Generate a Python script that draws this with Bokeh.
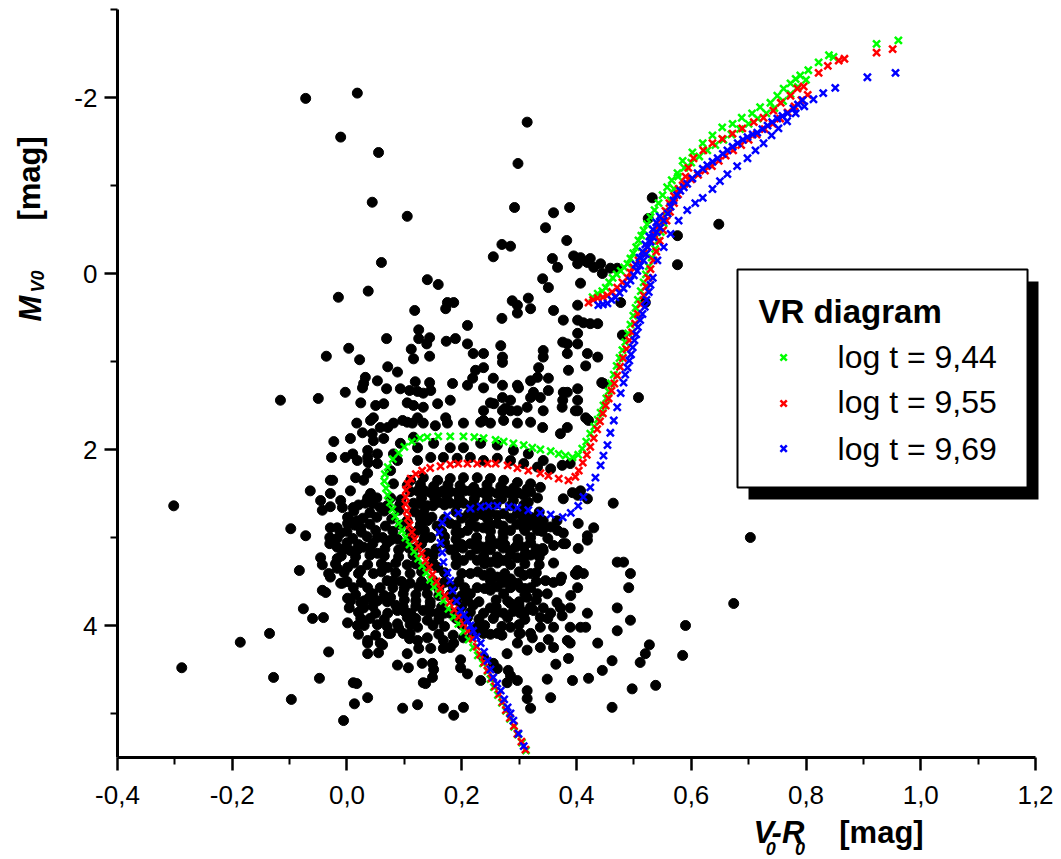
from bokeh.plotting import figure
from bokeh.models import Range1d, FixedTicker, CustomJSTickFormatter, Label
from bokeh.embed import file_html
from bokeh.resources import INLINE
import math

# ---------------- data (V0-R0, M_V0) ----------------
stars_top = [
(-0.072,-1.99),(0.018,-2.05),(-0.011,-1.55),(0.055,-1.375),(0.044,-0.81),(0.105,-0.65),(0.060,-0.125),
(0.314,-1.72),(0.298,-1.25),(0.292,-0.75),(0.360,-0.69),(0.388,-0.75),(0.346,-0.52),(0.383,-0.375),
(0.270,-0.33),(0.285,-0.31),(0.255,-0.19),(0.358,-0.17),(0.367,-0.07),(0.395,-0.20),(0.402,-0.11),
(0.407,-0.18),(0.419,-0.125),(0.424,-0.17),(0.430,-0.07),(0.442,-0.11),(0.445,0.0),(0.459,-0.06),(0.471,-0.06),
(0.532,-0.86),(0.525,-0.625),(0.576,-0.43),(0.576,-0.10),(0.648,-0.56),
]
stars_upper = [
(0.140,0.07),(0.159,0.125),(-0.015,0.27),(0.037,0.20),(0.175,0.33),(0.186,0.33),(0.172,0.40),(0.118,0.42),
(0.125,0.64),(0.125,0.74),(0.144,0.73),(0.139,0.80),(0.069,0.74),(0.173,0.77),(0.189,0.74),(0.112,0.86),
(0.116,0.97),(0.144,0.94),(0.003,0.85),(0.022,0.98),(-0.036,0.94),(0.071,1.06),(0.088,1.12),(0.032,1.18),
(0.027,1.30),(0.053,1.22),(0.069,1.31),(0.093,1.31),(0.109,1.33),(0.123,1.34),(0.133,1.36),(0.119,1.23),
(0.144,1.24),(0.184,1.25),(-0.003,1.35),(-0.050,1.42),(-0.116,1.44),
(0.341,0.06),(0.351,0.16),(0.407,0.11),(0.288,0.31),(0.297,0.36),(0.316,0.28),(0.320,0.40),(0.297,0.45),
(0.270,0.51),(0.360,0.42),(0.377,0.53),(0.402,0.36),(0.402,0.53),(0.412,0.56),(0.424,0.57),(0.437,0.57),
(0.477,0.33),(0.520,0.33),(0.210,0.59),(0.210,0.80),(0.220,0.91),(0.238,0.91),(0.268,0.82),(0.271,0.95),
(0.271,1.01),(0.224,1.10),(0.238,1.07),(0.219,1.19),(0.255,1.19),(0.271,1.27),(0.299,1.30),(0.320,1.22),
(0.332,1.18),(0.342,0.875),(0.342,0.95),(0.334,1.07),(0.351,1.19),(0.351,1.33),(0.376,0.78),(0.384,0.91),
(0.384,0.80),(0.402,0.68),(0.402,0.80),(0.419,0.91),(0.437,0.95),(0.416,1.05),(0.386,1.10),(0.402,1.31),
(0.384,1.35),(0.376,1.44),(0.402,1.44),(0.402,1.56),(0.337,1.41),(0.342,1.56),(0.320,1.41),(0.314,1.52),
(0.285,1.44),(0.271,1.41),(0.271,1.56),(0.250,1.47),(0.238,1.56),(0.285,1.56),(0.238,1.67),(0.203,1.70),
(0.172,1.64),(0.154,1.73),(0.416,1.64),(0.421,1.67),(0.444,1.24),(0.480,0.70),(0.508,1.41),
(0.029,1.25),(0.146,1.33),(0.210,1.27),(0.238,1.30),(0.297,1.27),(0.325,1.35),(0.377,1.35),(0.447,1.25),
(0.024,1.47),(0.050,1.50),(0.064,1.48),(0.105,1.47),(0.116,1.50),(0.133,1.52),(0.158,1.48),(0.180,1.44),
(0.256,1.48),(0.276,1.53),(0.297,1.56),(0.375,1.52),(0.398,1.56),
(0.041,1.67),(0.105,1.69),(0.133,1.70),(0.175,1.70),(0.233,1.69),(0.250,1.70),(0.273,1.67),(0.297,1.70),
(0.320,1.69),(0.341,1.75),(0.372,1.82),(0.384,1.75),
]
stars_middle = [
(0.006,1.875),(0.046,1.90),(0.064,1.875),(0.093,1.93),(0.123,1.98),(0.151,1.93),(0.180,1.98),(0.203,1.98),
(0.233,1.93),(0.262,1.95),(0.290,2.01),(0.316,2.05),(0.342,2.125),(0.375,2.18),(0.389,2.16),
(0.018,2.125),(0.036,2.09),(0.053,2.16),(0.076,2.24),(-0.029,2.35),(0.036,2.27),
(0.123,2.125),(0.146,2.09),(0.168,2.09),(0.192,2.10),(0.215,2.09),(0.238,2.125),(0.262,2.10),(0.285,2.125),
(0.308,2.16),(0.332,2.20),(0.355,2.22),
(0.046,1.64),(0.058,1.75),(0.044,1.82),(0.071,1.75),(0.081,1.70),(0.097,1.67),(0.114,1.70),(0.116,1.86),(0.123,1.64),
(0.017,1.70),(0.027,1.81),(-0.023,1.91),(-0.027,2.09),(-0.003,2.09),(0.010,2.05),(0.036,2.01),(0.037,2.15),
(0.053,2.05),(0.081,2.05),(0.088,2.125),(-0.025,2.35),(0.015,2.32),(-0.064,2.47),(-0.046,2.58),(-0.029,2.50),
(-0.043,2.69),(-0.011,2.58),(-0.029,2.65),(-0.008,2.66),(-0.098,2.90),(-0.072,2.98),(-0.083,3.375),(-0.043,3.31),
(-0.017,3.24),(-0.032,3.41),(-0.017,3.35),(-0.008,3.52),(-0.037,3.625),(0.001,3.69),(0.004,3.80),(0.024,3.74),
(0.001,3.97),(0.024,3.92),(0.039,3.68),(0.053,3.99),(0.036,4.17),(0.036,4.32),(0.055,4.31),(0.062,4.22),
(0.090,4.03),(0.072,4.09),(0.109,4.15),(0.123,4.17),(0.140,4.14),(0.105,4.32),(0.125,4.26),(0.146,4.26),
(0.168,4.26),(0.186,4.20),(0.149,4.43),(0.151,4.50),(0.011,2.66),(0.001,2.77),(0.018,2.81),(0.036,2.55),
(-0.017,2.89),(-0.017,3.01),(0.001,2.84),(-0.076,3.81),(-0.060,3.92),(-0.041,3.91),(-0.032,4.30),(-0.048,4.60),
(-0.006,5.08),(0.017,4.66),(0.013,4.89),(0.036,4.82),(0.097,4.94),(0.123,4.90),(0.168,4.94),(0.186,5.02),
(0.088,4.45),(0.107,4.48),(0.137,4.66),(-0.302,2.64),(-0.288,4.48),(-0.186,4.19),(-0.135,4.09),(-0.128,4.59),
(-0.097,4.84),
]
stars_core = [
(0.006,2.47),(0.029,2.35),(0.041,2.50),(0.032,2.61),(0.058,2.66),(0.076,2.55),(0.081,2.39),
(0.111,2.35),(0.133,2.32),(0.158,2.35),(0.180,2.33),(0.203,2.32),(0.227,2.32),(0.250,2.33),(0.273,2.35),
(0.297,2.375),(0.320,2.39),(0.337,2.43),
(0.123,2.47),(0.146,2.49),(0.168,2.47),(0.192,2.49),(0.215,2.47),(0.238,2.49),(0.262,2.50),(0.285,2.50),
(0.308,2.52),(0.332,2.55),
(0.116,2.61),(0.140,2.64),(0.160,2.60),(0.180,2.61),(0.203,2.61),(0.227,2.66),(0.273,2.73),(0.297,2.73),
(0.320,2.77),(0.342,2.81),(0.366,2.81),(0.377,2.56),(0.402,2.52),(0.464,2.61),
(-0.046,3.23),(-0.029,3.45),(-0.043,3.60),(-0.029,2.89),(-0.011,2.95),(0.006,2.81),(0.024,2.89),(-0.017,3.11),
(0.006,3.15),(0.029,3.11),(0.053,3.0),(0.053,3.18),(0.076,3.03),
(0.001,3.34),(0.024,3.375),(0.046,3.41),(0.071,3.34),(-0.011,3.52),(0.011,3.57),(0.036,3.57),(0.058,3.57),(0.081,3.49),
(0.105,2.81),(0.123,2.92),(0.140,2.81),(0.146,3.0),(0.123,3.11),(0.140,3.18),(0.158,3.34),(0.133,3.34),
(0.180,2.84),(0.198,2.95),(0.215,2.84),(0.238,2.89),(0.262,2.84),(0.285,2.92),(0.308,2.89),(0.332,2.92),
(0.192,3.11),(0.215,3.07),(0.238,3.11),(0.262,3.07),(0.285,3.15),(0.308,3.11),
(0.203,3.26),(0.227,3.26),(0.250,3.28),(0.273,3.26),(0.297,3.23),(0.320,3.20),(0.342,3.15),
(0.215,3.41),(0.238,3.43),(0.262,3.45),(0.285,3.47),(0.308,3.43),
(0.227,3.57),(0.250,3.60),(0.273,3.64),(0.297,3.52),(0.320,3.57),(0.346,3.49),(0.349,3.64),(0.372,3.49),
(0.402,3.375),(0.471,3.28),(0.482,3.28),
(0.018,4.0),(0.006,3.72),(0.029,3.80),(0.053,3.72),(0.076,3.68),(0.098,3.64),(0.071,3.86),(0.088,3.83),
(0.111,3.86),(0.133,3.83),(0.088,3.98),(0.098,4.09),(0.123,4.02),(0.140,3.94),(0.158,3.86),(0.180,3.86),
(0.036,4.20),(0.058,4.20),(0.076,4.09),(0.168,4.17),(0.180,4.25),(0.203,4.14),(0.227,4.02),(0.238,3.86),
(0.250,3.80),(0.273,3.86),(0.285,3.75),(0.314,3.68),(0.325,3.83),(0.342,3.80),(0.355,3.86),(0.372,3.80),
(0.238,4.09),(0.262,4.09),(0.285,4.02),(0.297,4.20),(0.320,4.09),(0.337,4.02),(0.360,4.02),(0.389,4.02),
(0.407,4.02),(0.419,3.86),(0.437,4.20),(0.389,4.20),(0.360,4.25),(0.337,4.25),(0.314,4.28),(0.279,4.32),
(0.255,4.43),(0.238,4.36),
(0.105,2.41),(0.128,2.40),(0.151,2.42),(0.176,2.40),(0.197,2.41),(0.221,2.43),(0.244,2.40),(0.268,2.42),(0.290,2.44),(0.314,2.45),
(0.052,2.55),(0.094,2.57),(0.130,2.55),(0.153,2.56),(0.174,2.54),(0.196,2.55),(0.222,2.56),(0.245,2.57),(0.270,2.56),(0.290,2.58),(0.316,2.60),
(0.012,2.70),(0.040,2.72),(0.065,2.70),(0.090,2.69),(0.118,2.71),(0.134,2.72),(0.190,2.71),(0.212,2.73),(0.236,2.74),(0.250,2.71),(0.262,2.75),(0.310,2.70),(0.335,2.71),
(0.014,2.86),(0.040,2.85),(0.067,2.87),(0.094,2.86),(0.128,2.85),(0.157,2.87),(0.190,2.86),(0.226,2.88),(0.250,2.86),(0.272,2.87),(0.296,2.85),(0.320,2.86),(0.355,2.88),
(-0.030,3.00),(0.010,3.01),(0.035,2.99),(0.062,3.00),(0.088,3.02),(0.112,3.00),(0.135,3.01),(0.170,2.99),(0.190,3.02),(0.226,3.00),(0.250,3.01),(0.272,3.00),(0.298,3.02),(0.320,3.00),(0.350,3.01),
(-0.005,3.13),(0.018,3.14),(0.040,3.12),(0.066,3.13),(0.090,3.14),(0.108,3.12),(0.155,3.13),(0.180,3.14),(0.202,3.12),(0.226,3.13),(0.250,3.14),(0.272,3.12),(0.330,3.13),
(-0.020,3.30),(0.012,3.29),(0.036,3.31),(0.060,3.30),(0.085,3.29),(0.105,3.31),(0.120,3.30),(0.150,3.29),(0.190,3.31),(0.240,3.30),(0.262,3.29),(0.285,3.31),(0.310,3.30),(0.335,3.31),(0.360,3.29),
(0.000,3.50),(0.025,3.51),(0.070,3.49),(0.095,3.50),(0.110,3.52),(0.130,3.50),(0.150,3.49),(0.170,3.51),(0.195,3.50),(0.250,3.49),(0.273,3.51),(0.330,3.50),(0.360,3.51),
(0.015,3.65),(0.045,3.64),(0.065,3.66),(0.120,3.65),(0.140,3.64),(0.160,3.66),(0.180,3.65),(0.200,3.66),(0.215,3.64),(0.310,3.65),(0.390,3.66),
(0.045,3.78),(0.085,3.77),(0.098,3.79),(0.120,3.78),(0.145,3.77),(0.165,3.79),(0.200,3.78),(0.220,3.77),(0.260,3.79),(0.300,3.78),(0.320,3.79),
(0.040,3.92),(0.065,3.93),(0.105,3.91),(0.120,3.92),(0.160,3.93),(0.190,3.92),(0.210,3.91),(0.230,3.93),(0.255,3.92),(0.280,3.91),(0.310,3.93),(0.350,3.92),
(0.020,4.10),(0.050,4.11),(0.110,4.09),(0.160,4.10),(0.185,4.11),(0.220,4.09),(0.250,4.10),(0.270,4.11),(0.300,4.09),
]
stars_core_fill = [
(0.110,2.48),(0.135,2.47),(0.160,2.49),(0.180,2.48),(0.205,2.47),(0.228,2.49),(0.250,2.48),(0.275,2.47),(0.298,2.49),(0.320,2.48),
(0.020,2.63),(0.045,2.62),(0.070,2.64),(0.092,2.63),(0.128,2.62),(0.150,2.64),(0.170,2.63),(0.192,2.62),(0.215,2.64),(0.240,2.63),(0.260,2.62),(0.285,2.64),(0.308,2.63),
(0.028,2.78),(0.052,2.77),(0.078,2.79),(0.128,2.78),(0.148,2.77),(0.170,2.79),(0.200,2.78),(0.222,2.77),(0.245,2.79),(0.285,2.78),(0.308,2.79),(0.330,2.77),
(0.000,2.93),(0.025,2.94),(0.050,2.92),(0.080,2.93),(0.110,2.94),(0.135,2.92),(0.165,2.93),(0.190,2.94),(0.210,2.92),(0.250,2.93),(0.272,2.94),(0.310,2.92),(0.340,2.93),
(-0.030,3.07),(0.000,3.06),(0.020,3.08),(0.045,3.07),(0.070,3.06),(0.100,3.08),(0.130,3.07),(0.170,3.06),(0.200,3.08),(0.227,3.07),(0.250,3.06),(0.275,3.08),(0.298,3.07),(0.320,3.06),
(-0.010,3.21),(0.015,3.22),(0.040,3.20),(0.065,3.21),(0.090,3.22),(0.115,3.20),(0.150,3.21),(0.190,3.22),(0.215,3.20),(0.238,3.21),(0.262,3.22),(0.285,3.20),(0.310,3.21),(0.335,3.22),
(-0.005,3.40),(0.020,3.41),(0.060,3.39),(0.085,3.40),(0.110,3.41),(0.130,3.39),(0.170,3.40),(0.200,3.41),(0.228,3.39),(0.250,3.40),(0.275,3.41),(0.300,3.39),(0.330,3.40),
(0.080,3.57),(0.100,3.58),(0.125,3.56),(0.140,3.57),(0.160,3.58),(0.185,3.56),(0.205,3.57),(0.240,3.58),(0.262,3.56),(0.285,3.57),(0.310,3.58),
(0.030,3.72),(0.070,3.73),(0.100,3.71),(0.120,3.72),(0.145,3.73),(0.190,3.71),(0.210,3.72),(0.230,3.73),(0.260,3.71),(0.280,3.72),(0.300,3.73),(0.330,3.71),
(0.020,3.85),(0.050,3.86),(0.100,3.84),(0.145,3.85),(0.170,3.86),(0.195,3.84),(0.215,3.85),(0.260,3.86),(0.290,3.84),(0.310,3.85),
(0.030,4.00),(0.070,4.01),(0.110,3.99),(0.150,4.00),(0.170,4.01),(0.200,3.99),(0.240,4.00),(0.270,4.01),(0.300,3.99),
]
stars_lower = [
(0.131,4.43),(0.149,4.59),(0.198,4.48),(0.133,4.65),(0.210,4.55),(0.011,4.65),(0.203,4.93),
(0.285,4.57),(0.297,4.625),(0.279,4.65),(0.314,4.74),(0.314,4.83),(0.320,4.94),(0.355,4.82),(0.393,4.625),
(0.421,4.60),(0.445,4.51),(0.462,4.40),(0.471,4.06),(0.494,3.94),(0.511,4.42),(0.462,4.93),(0.497,4.72),
(0.520,4.32),(0.471,3.80),(0.494,3.41),(0.491,3.57),
(0.419,3.03),(0.403,2.84),(0.430,2.89),(0.377,3.07),(0.377,2.95),(0.412,3.41),(0.398,3.41),(0.332,3.64),
(0.703,3.0),(0.674,3.75),(0.590,4.0),(0.585,4.34),(0.538,4.68),(0.527,4.22),(0.386,4.375),(0.364,4.44),
(0.349,4.61),(0.281,4.51),(0.262,4.49),(0.233,4.625),(0.198,4.39),(0.384,4.17),(0.351,4.16),(0.323,4.14),
(0.302,4.09),(0.416,4.02),(0.375,3.89),(0.337,3.91),(0.302,3.86),(0.366,3.74),(0.389,3.80),(0.402,3.57),
(0.400,3.42),(0.374,3.45),(0.320,3.41),(0.302,3.57),(0.311,3.18),(0.294,3.11),(0.341,3.125),(0.360,3.09),
(0.381,3.07),(0.403,3.125),(0.419,2.98),(0.367,2.92),(0.342,2.90),(0.332,2.83),(0.393,2.49),(0.407,2.47),
(0.419,2.56),
]

iso_944 = [
(0.312,5.42),(0.305,5.33),(0.298,5.24),(0.291,5.15),(0.284,5.06),(0.277,4.97),(0.270,4.88),
(0.263,4.79),(0.256,4.70),(0.250,4.61),(0.245,4.52),(0.237,4.43),(0.228,4.34),(0.220,4.25),(0.212,4.16),
(0.203,4.07),(0.194,3.98),(0.186,3.90),(0.177,3.81),(0.168,3.72),(0.160,3.64),(0.152,3.56),(0.145,3.48),
(0.138,3.40),(0.131,3.32),(0.124,3.24),(0.117,3.16),(0.109,3.08),(0.102,3.00),(0.096,2.92),(0.090,2.84),
(0.084,2.76),(0.079,2.68),(0.075,2.60),(0.071,2.52),(0.068,2.44),(0.065,2.36),(0.066,2.28),(0.071,2.20),
(0.080,2.11),(0.090,2.04),(0.100,1.97),(0.113,1.91),(0.127,1.87),(0.140,1.86),(0.159,1.85),(0.180,1.85),
(0.203,1.85),(0.222,1.86),(0.238,1.87),(0.259,1.89),(0.273,1.91),(0.290,1.93),(0.308,1.95),(0.323,1.98),
(0.337,2.00),(0.355,2.02),(0.369,2.05),(0.381,2.07),(0.393,2.09),(0.403,2.06),(0.410,1.99),(0.417,1.91),
(0.424,1.82),(0.431,1.74),(0.437,1.66),(0.442,1.58),(0.447,1.50),(0.452,1.42),(0.456,1.34),(0.460,1.25),
(0.465,1.15),(0.470,1.05),(0.475,0.96),(0.480,0.87),(0.485,0.78),(0.490,0.68),(0.494,0.58),(0.499,0.48),
(0.503,0.39),(0.507,0.30),(0.512,0.20),(0.517,0.10),(0.521,0.01),(0.526,-0.08),(0.531,-0.18),(0.537,-0.28),
(0.542,-0.37),(0.547,-0.47),(0.552,-0.57),(0.558,-0.70),(0.564,-0.83),(0.570,-0.96),(0.577,-1.10),(0.585,-1.28),
(0.602,-1.375),(0.620,-1.48),(0.637,-1.57),(0.654,-1.66),(0.672,-1.70),(0.688,-1.77),(0.706,-1.82),(0.720,-1.89),
(0.738,-1.94),(0.750,-2.02),(0.761,-2.10),(0.773,-2.16),(0.782,-2.21),(0.790,-2.25),(0.804,-2.31),(0.822,-2.40),
(0.840,-2.48),(0.848,-2.46),(0.923,-2.61),(0.961,-2.65),
(0.428,0.27),(0.437,0.23),(0.445,0.20),(0.451,0.16),(0.457,0.10),(0.463,0.05),(0.470,0.01),(0.477,-0.03),
(0.483,-0.07),(0.489,-0.11),(0.494,-0.17),(0.499,-0.23),(0.504,-0.30),(0.508,-0.375),(0.513,-0.43),(0.517,-0.49),
(0.523,-0.56),(0.529,-0.64),(0.536,-0.72),(0.543,-0.80),(0.550,-0.89),(0.558,-0.98),(0.566,-1.06),(0.576,-1.14),
(0.588,-1.20),(0.600,-1.26),(0.614,-1.33),(0.628,-1.40),(0.642,-1.46),(0.656,-1.52),(0.670,-1.58),(0.685,-1.64),
(0.700,-1.70),(0.716,-1.76),(0.731,-1.82),(0.745,-1.88),(0.760,-1.96),(0.773,-2.04),(0.786,-2.12),(0.800,-2.20),
]
iso_955 = [
(0.311,5.41),(0.304,5.32),(0.297,5.23),(0.291,5.14),(0.284,5.05),(0.277,4.96),(0.271,4.87),
(0.265,4.78),(0.258,4.69),(0.252,4.60),(0.245,4.51),(0.239,4.42),(0.232,4.33),(0.226,4.24),(0.219,4.15),
(0.211,4.06),(0.203,3.98),(0.195,3.90),(0.187,3.82),(0.179,3.74),(0.171,3.66),(0.163,3.58),(0.156,3.50),
(0.149,3.42),(0.143,3.34),(0.137,3.26),(0.130,3.18),(0.124,3.10),(0.118,3.02),(0.113,2.94),(0.109,2.86),
(0.106,2.78),(0.104,2.70),(0.102,2.62),(0.102,2.54),(0.103,2.46),(0.106,2.39),(0.111,2.33),(0.120,2.28),
(0.131,2.24),(0.145,2.21),(0.163,2.19),(0.180,2.17),(0.194,2.16),(0.210,2.16),(0.227,2.16),(0.245,2.16),
(0.259,2.16),(0.280,2.18),(0.297,2.21),(0.316,2.24),(0.337,2.27),(0.351,2.30),(0.369,2.33),(0.386,2.35),
(0.398,2.31),(0.404,2.24),(0.411,2.15),(0.418,2.06),(0.424,1.97),(0.430,1.87),(0.436,1.77),(0.441,1.68),
(0.446,1.59),(0.451,1.50),(0.456,1.42),(0.461,1.33),(0.466,1.25),(0.471,1.16),(0.476,1.06),(0.481,0.96),
(0.487,0.86),(0.492,0.76),(0.497,0.67),(0.502,0.57),(0.507,0.46),(0.512,0.35),(0.517,0.25),(0.521,0.15),
(0.525,0.05),(0.529,-0.05),(0.534,-0.15),(0.539,-0.25),(0.545,-0.37),(0.551,-0.49),(0.557,-0.60),(0.563,-0.70),
(0.570,-0.80),(0.577,-0.90),(0.585,-1.00),(0.590,-1.10),(0.595,-1.20),(0.604,-1.31),(0.621,-1.40),(0.637,-1.48),
(0.654,-1.53),(0.672,-1.59),(0.689,-1.65),(0.709,-1.72),(0.726,-1.77),(0.743,-1.85),(0.756,-1.94),(0.773,-2.02),
(0.785,-2.10),(0.796,-2.125),(0.822,-2.28),(0.838,-2.36),(0.857,-2.42),(0.867,-2.44),(0.923,-2.51),(0.951,-2.55),
(0.421,0.33),(0.429,0.30),(0.437,0.28),(0.446,0.27),(0.454,0.25),(0.462,0.21),(0.471,0.16),(0.480,0.10),
(0.489,0.05),(0.494,-0.01),(0.499,-0.07),(0.508,-0.15),(0.517,-0.23),(0.523,-0.30),(0.529,-0.375),(0.535,-0.45),
(0.541,-0.53),(0.548,-0.62),(0.555,-0.71),(0.562,-0.80),(0.570,-0.88),(0.578,-0.96),(0.588,-1.02),(0.600,-1.07),
(0.612,-1.12),(0.624,-1.17),(0.636,-1.22),(0.648,-1.28),(0.660,-1.34),(0.673,-1.40),(0.687,-1.46),(0.700,-1.52),
(0.714,-1.58),(0.728,-1.64),(0.742,-1.70),(0.755,-1.76),(0.768,-1.83),(0.780,-1.90),(0.792,-1.97),(0.803,-2.03),
]
iso_969 = [
(0.308,5.37),(0.299,5.23),(0.290,5.08),(0.285,5.00),(0.280,4.93),(0.274,4.84),(0.268,4.74),
(0.262,4.66),(0.255,4.59),(0.250,4.50),(0.245,4.40),(0.239,4.30),(0.233,4.20),(0.226,4.13),(0.220,4.06),
(0.215,4.00),(0.210,3.94),(0.204,3.88),(0.198,3.83),(0.191,3.72),(0.184,3.60),(0.180,3.49),(0.175,3.40),
(0.168,3.28),(0.166,3.17),(0.163,3.06),(0.161,2.94),(0.166,2.83),(0.175,2.75),(0.194,2.72),(0.215,2.67),
(0.233,2.65),(0.247,2.64),(0.262,2.64),(0.282,2.65),(0.297,2.66),(0.316,2.69),(0.337,2.72),(0.355,2.74),
(0.376,2.77),(0.390,2.72),(0.403,2.64),(0.412,2.54),(0.424,2.43),(0.433,2.32),(0.442,2.18),(0.447,2.07),
(0.454,1.95),(0.459,1.81),(0.465,1.67),(0.471,1.52),(0.477,1.36),(0.482,1.24),(0.485,1.15),(0.489,1.07),
(0.492,0.99),(0.495,0.92),(0.498,0.84),(0.501,0.76),(0.504,0.69),(0.507,0.61),(0.511,0.53),(0.515,0.46),
(0.519,0.38),(0.522,0.30),(0.526,0.21),(0.529,0.13),(0.533,0.05),(0.541,-0.15),(0.552,-0.30),(0.564,-0.45),
(0.578,-0.60),(0.593,-0.72),(0.607,-0.80),(0.620,-0.86),(0.637,-0.96),(0.650,-1.05),(0.663,-1.13),(0.680,-1.22),
(0.698,-1.31),(0.712,-1.40),(0.726,-1.48),(0.740,-1.57),(0.752,-1.65),(0.767,-1.73),(0.782,-1.82),(0.797,-1.90),
(0.813,-1.98),(0.830,-2.05),(0.851,-2.11),(0.907,-2.23),(0.956,-2.28),
(0.438,0.36),(0.446,0.35),(0.454,0.34),(0.461,0.30),(0.468,0.27),(0.475,0.22),(0.482,0.17),(0.488,0.12),
(0.494,0.08),(0.500,0.02),(0.506,-0.03),(0.511,-0.09),(0.517,-0.15),(0.521,-0.22),(0.524,-0.30),(0.529,-0.36),
(0.534,-0.41),(0.540,-0.47),(0.546,-0.52),(0.552,-0.60),(0.559,-0.68),(0.564,-0.76),(0.569,-0.83),(0.575,-0.89),
(0.581,-0.94),(0.587,-0.98),(0.593,-1.02),(0.602,-1.08),(0.611,-1.14),(0.620,-1.19),(0.628,-1.23),(0.637,-1.27),
(0.646,-1.31),(0.655,-1.36),(0.663,-1.40),(0.672,-1.44),(0.681,-1.48),(0.690,-1.52),(0.698,-1.55),(0.707,-1.58),
(0.715,-1.60),(0.724,-1.64),(0.733,-1.68),(0.741,-1.72),(0.750,-1.76),(0.759,-1.79),(0.768,-1.82),(0.778,-1.875),
(0.786,-1.92),(0.794,-1.97),(0.503,-0.10),(0.510,-0.18),(0.515,-0.25),(0.520,-0.33),(0.527,-0.42),(0.533,-0.50),
(0.539,-0.58),(0.545,-0.65),
]

series_names = ["log t = 9,44", "log t = 9,55", "log t = 9,69"]
series_colors = ["#00ff00", "#ff0000", "#0000ff"]
x_bounds = (-0.4, 1.2)
y_bounds = (-3.0, 5.5)
x_ticks = [-0.4, -0.2, 0.0, 0.2, 0.4, 0.6, 0.8, 1.0, 1.2]
x_minor = [-0.3, -0.1, 0.1, 0.3, 0.5, 0.7, 0.9, 1.1]
y_ticks = [-2, 0, 2, 4]
y_minor = [-3, -1, 1, 3, 5]

# ---------------- figure (frame = whole canvas, axes fixed at the data edges) ----------------
FONT = "Liberation Sans"
p = figure(width=1061, height=859, x_range=Range1d(-0.6039, 1.2453), y_range=Range1d(6.659, -3.1023),
           output_backend="svg", toolbar_location=None, title=None, min_border=0)
p.outline_line_color = None
p.grid.visible = False
p.background_fill_color = "white"
p.border_fill_color = "white"

for ax in (p.xaxis[0], p.yaxis[0]):
    ax.axis_line_width = 3
    ax.axis_line_color = "black"
    ax.major_tick_line_width = 2.5
    ax.minor_tick_line_width = 2
    ax.major_tick_out = 13
    ax.major_tick_in = 0
    ax.minor_tick_out = 7
    ax.minor_tick_in = 0
    ax.major_label_text_font = FONT
    ax.major_label_text_font_size = "26px"
    ax.major_label_text_color = "black"

xa = p.xaxis[0]
xa.fixed_location = y_bounds[1]
xa.bounds = x_bounds
xa.ticker = FixedTicker(ticks=x_ticks, minor_ticks=x_minor)
xa.formatter = CustomJSTickFormatter(code="return tick.toFixed(1).replace('.', ',');")
xa.major_label_standoff = 15

ya = p.yaxis[0]
ya.fixed_location = x_bounds[0]
ya.bounds = y_bounds
ya.ticker = FixedTicker(ticks=y_ticks, minor_ticks=y_minor)
ya.formatter = CustomJSTickFormatter(code="return String(tick);")
ya.major_label_standoff = 7

all_stars = stars_top + stars_upper + stars_middle + stars_core + stars_core_fill + stars_lower
p.scatter([s[0] for s in all_stars], [s[1] for s in all_stars], size=10, color="black")

for iso, col in zip([iso_944, iso_955, iso_969], series_colors):
    p.scatter([q[0] for q in iso], [q[1] for q in iso], marker="x", size=10,
              line_color=col, line_width=2.5)

# ---------------- legend box ----------------
p.quad(left=[0.6998], right=[1.2052], top=[0.091], bottom=[2.568], fill_color="black", line_color=None)
p.quad(left=[0.6806], right=[1.1861], top=[-0.045], bottom=[2.432], fill_color="white",
       line_color="black", line_width=2)
p.add_layout(Label(x=0.717, y=0.432, text="VR diagram", text_font=FONT, text_font_style="bold",
                   text_font_size="33px", text_color="black", text_baseline="alphabetic"))
leg_marker_y = [0.955, 1.477, 1.99]
leg_text_y = [0.944, 1.464, 1.989]
for name, col, my, ty in zip(series_names, series_colors, leg_marker_y, leg_text_y):
    p.scatter([0.761], [my], marker="x", size=9, line_color=col, line_width=2.5)
    p.add_layout(Label(x=0.855, y=ty, text=name, text_font=FONT, text_font_size="32px",
                       text_color="black", text_baseline="alphabetic"))

# ---------------- axis titles ----------------
def lab(x, y, t, size, style, angle=0.0):
    p.add_layout(Label(x=x, y=y, text=t, text_font=FONT, text_font_size=size,
                       text_font_style=style, text_color="black", angle=angle,
                       text_baseline="alphabetic", text_align="left"))

lab(0.7085, 6.353, "V", "31px", "bold italic")
lab(0.7300, 6.530, "0", "18px", "bold italic")
lab(0.740, 6.353, "-R", "31px", "bold italic")
lab(0.781, 6.530, "0", "18px", "bold italic")
lab(0.858, 6.353, "[mag]", "31px", "bold")

a = math.pi / 2
lab(-0.5516, 0.545, "M", "31px", "bold italic", a)
lab(-0.5377, 0.216, "V0", "18px", "bold italic", a)
lab(-0.5534, -0.602, "[mag]", "31px", "bold", a)

open("out.html", "w").write(file_html(p, INLINE))
